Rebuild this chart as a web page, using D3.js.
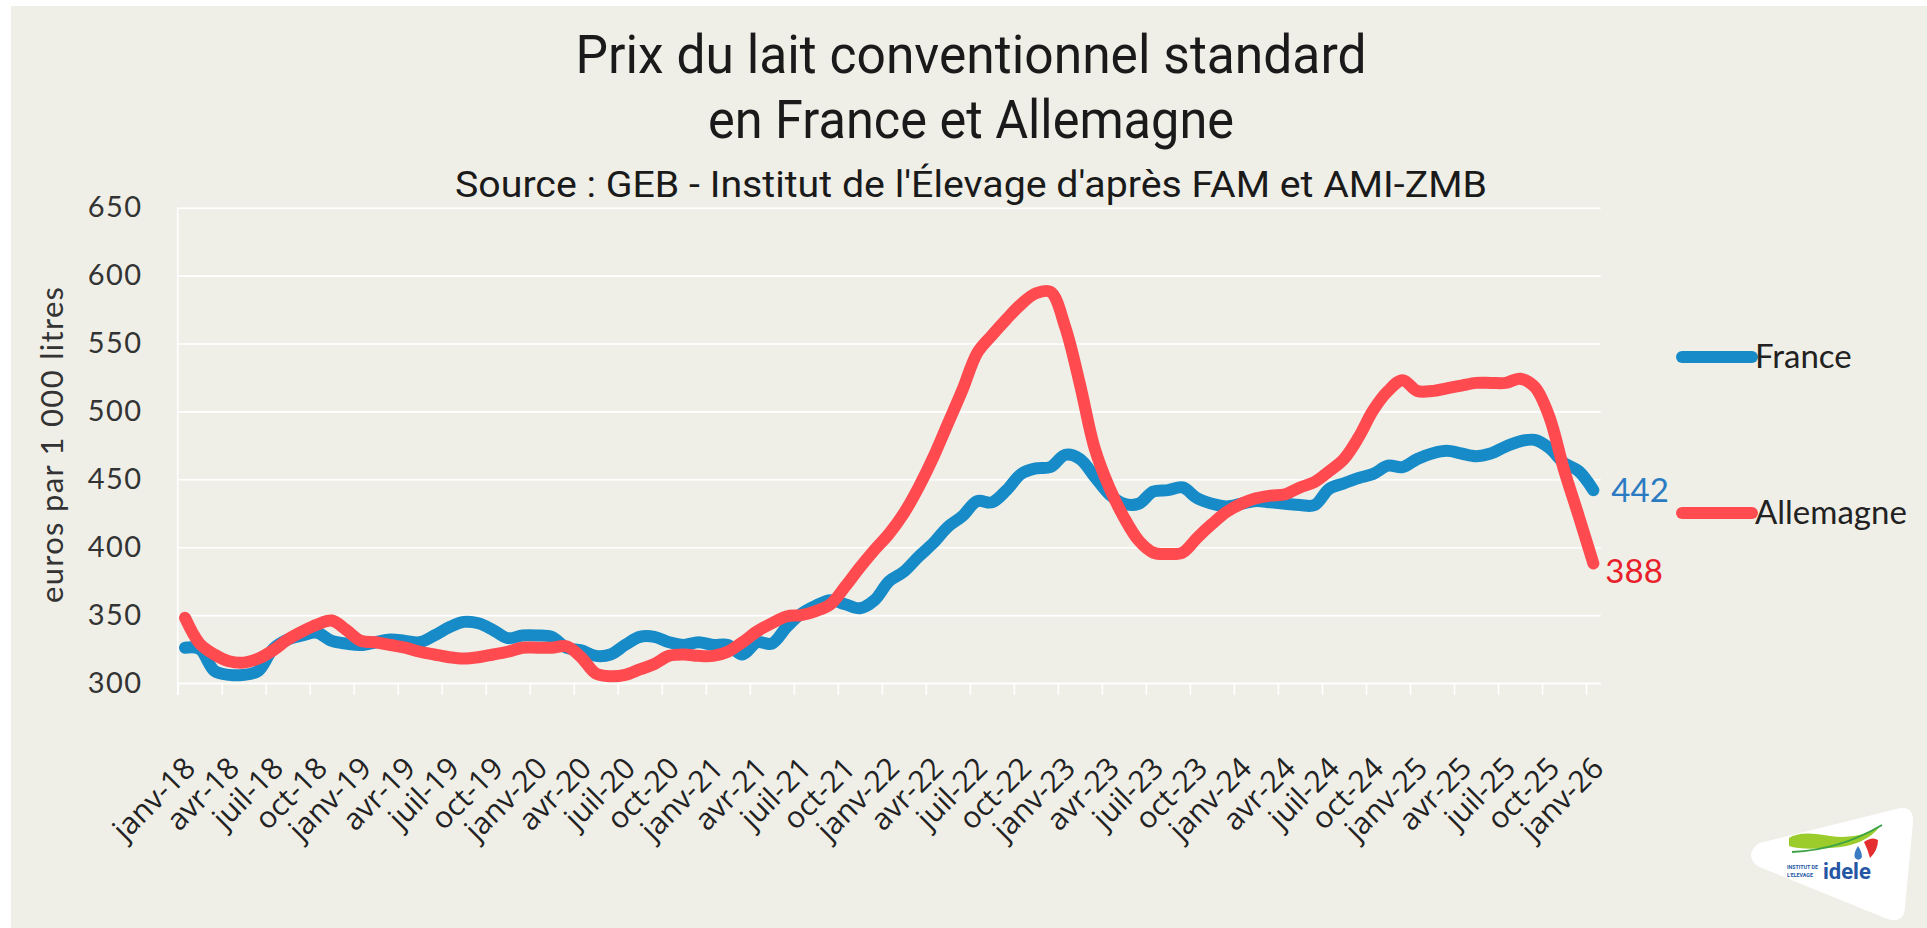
<!DOCTYPE html>
<html>
<head>
<meta charset="utf-8">
<script src="https://cdn.jsdelivr.net/npm/d3@7"></script>
<style>
  body { margin: 0; background: #fff; }
  svg { display: block; }
</style>
</head>
<body>
<div id="vis"></div>
<script>
// mois et années (axe des catégories : janv-18 -> janv-26)
var moisAbr = ['janv', 'févr', 'mars', 'avr', 'mai', 'juin', 'juil', 'août', 'sept', 'oct', 'nov', 'déc'];
var annees = ['18', '19', '20', '21', '22', '23', '24', '25', '26'];

// prix du lait, euros par 1 000 litres
var france = [
  326, 325, 309, 306, 306, 309, 325, 332, 335, 337,
  331, 329, 328, 330, 332, 331, 330, 335, 341, 345,
  344, 339, 333, 335, 335, 334, 326, 324, 320, 321,
  328, 334, 334, 330, 328, 330, 328, 328, 321, 330,
  329, 341, 351, 357, 361, 358, 355, 361, 375, 382,
  393, 403, 415, 423, 434, 433, 442, 454, 458, 459,
  468, 465, 452, 439, 432, 432, 441, 442, 444, 436,
  432, 430, 432, 434, 433, 432, 431, 431, 443, 447,
  451, 454, 460, 459, 465, 469, 471, 469, 467, 469,
  474, 478, 479, 473, 462, 456, 442
];
var allemagne = [
  348, 329, 321, 316, 315, 318, 324, 332, 338, 343,
  346, 339, 331, 330, 328, 326, 323, 321, 319, 318,
  319, 321, 323, 326, 326, 326, 327, 319, 307, 305,
  306, 310, 314, 320, 321, 320, 320, 323, 330, 338,
  344, 349, 350, 353, 358, 371, 385, 398, 410, 425,
  444, 466, 491, 516, 543, 556, 568, 579, 587, 588,
  562, 520, 473, 444, 422, 405, 396, 395, 396, 407,
  417, 426, 432, 436, 438, 439, 444, 448, 456, 465,
  481, 501, 515, 523, 515, 515, 517, 519, 521, 521,
  521, 524, 518, 496, 457, 423, 388
];
var yTicks = [300, 350, 400, 450, 500, 550, 600, 650];

var months = [];
annees.forEach(a => moisAbr.forEach(m => months.push(m + '-' + a)));
months = months.slice(0, france.length);

var series = [
  {name: 'France', values: france, color: '#168bc8', labelColor: '#2a7bc2', legendY: 357, dx: 18, dy: 12},
  {name: 'Allemagne', values: allemagne, color: '#ff4a50', labelColor: '#e8202a', legendY: 513, dx: 12, dy: 20}
];

var width = 1927, height = 928;
var plot = {left: 177.7, right: 1600.7, top: 207.7, bottom: 683};

var svg = d3.select('#vis').append('svg')
  .attr('width', width)
  .attr('height', height);

svg.append('rect')
  .attr('x', 11).attr('y', 6)
  .attr('width', width - 11).attr('height', height - 6)
  .attr('fill', '#efefe8');

var x = d3.scaleBand()
  .domain(months)
  .range([plot.left, plot.right]);
var xb = d3.scaleLinear()
  .domain([0, months.length])
  .range([plot.left, plot.right]);
var y = d3.scaleLinear()
  .domain([300, 650])
  .range([plot.bottom, plot.top]);

// grille + étiquettes Y
var gy = svg.append('g')
  .attr('transform', 'translate(' + plot.left + ',0)')
  .call(d3.axisLeft(y).tickValues(yTicks).tickSize(-(plot.right - plot.left)).tickPadding(35));
gy.select('.domain').remove();
gy.selectAll('line').attr('stroke', '#ffffff').attr('stroke-width', 1.6);
gy.selectAll('text')
  .attr('font-family', 'Lato, sans-serif')
  .attr('font-size', 29)
  .attr('letter-spacing', 1.5)
  .attr('fill', '#333');

// axe vertical blanc
svg.append('line')
  .attr('x1', plot.left).attr('x2', plot.left)
  .attr('y1', plot.top).attr('y2', plot.bottom + 12)
  .attr('stroke', '#fff').attr('stroke-width', 1.6);

// graduations X (limites des trimestres)
var gt = svg.append('g')
  .attr('transform', 'translate(0,' + plot.bottom + ')')
  .call(d3.axisBottom(xb).tickValues(d3.range(0, months.length, 3)).tickSize(12).tickSizeOuter(0));
gt.selectAll('text').remove();
gt.select('.domain').attr('stroke', '#fff').attr('stroke-width', 1.6);
gt.selectAll('line').attr('stroke', '#fff').attr('stroke-width', 1.6);

// étiquettes X
var gx = svg.append('g')
  .attr('transform', 'translate(0,' + plot.bottom + ')')
  .call(d3.axisBottom(x).tickValues(months.filter((d, i) => i % 3 === 0)).tickSize(0));
gx.select('.domain').remove();
gx.selectAll('text')
  .attr('font-family', '"Open Sans", sans-serif')
  .attr('font-size', 30)
  .attr('fill', '#222')
  .attr('text-anchor', 'end')
  .attr('y', 0).attr('dy', 0)
  .attr('transform', 'translate(12,87) rotate(-45)');

// titre Y
svg.append('text')
  .attr('transform', 'translate(63,445) rotate(-90)')
  .attr('text-anchor', 'middle')
  .attr('font-family', 'Lato, sans-serif')
  .attr('font-size', 31)
  .attr('textLength', 316)
  .attr('lengthAdjust', 'spacing')
  .attr('fill', '#333')
  .text('euros par 1 000 litres');

// courbes
var line = d3.line()
  .x((d, i) => x(months[i]) + x.bandwidth() / 2)
  .y(d => y(d))
  .curve(d3.curveCatmullRom.alpha(0.5));

svg.selectAll('path.serie')
  .data(series)
  .enter()
  .append('path')
    .attr('class', 'serie')
    .attr('d', d => line(d.values))
    .attr('fill', 'none')
    .attr('stroke', d => d.color)
    .attr('stroke-width', 12)
    .attr('stroke-linecap', 'round')
    .attr('stroke-linejoin', 'round');

// valeurs finales
series.forEach(s => {
  var n = s.values.length - 1;
  svg.append('text')
    .attr('x', x(months[n]) + x.bandwidth() / 2 + s.dx)
    .attr('y', y(s.values[n]) + s.dy)
    .attr('font-family', 'Lato, sans-serif')
    .attr('font-size', 33)
    .attr('fill', s.labelColor)
    .text(s.values[n]);
});

// légende
var leg = svg.selectAll('g.leg')
  .data(series)
  .enter()
  .append('g')
    .attr('class', 'leg')
    .attr('transform', d => 'translate(1682,' + d.legendY + ')');
leg.append('line')
  .attr('x1', 0).attr('x2', 70)
  .attr('stroke', d => d.color)
  .attr('stroke-width', 12)
  .attr('stroke-linecap', 'round');
leg.append('text')
  .attr('x', 73).attr('y', 11)
  .attr('font-family', 'Lato, sans-serif')
  .attr('font-size', 33)
  .attr('fill', '#222')
  .text(d => d.name);

// titres
var titres = [
  {t: 'Prix du lait conventionnel standard', y: 73, size: 53, len: 791},
  {t: 'en France et Allemagne', y: 138, size: 53, len: 526},
  {t: "Source : GEB - Institut de l'Élevage d'après FAM et AMI-ZMB", y: 197, size: 37, len: 1032}
];
svg.selectAll('text.titre')
  .data(titres)
  .enter()
  .append('text')
    .attr('class', 'titre')
    .attr('x', 971)
    .attr('y', d => d.y)
    .attr('text-anchor', 'middle')
    .attr('font-family', 'Roboto, sans-serif')
    .attr('font-size', d => d.size)
    .attr('textLength', d => d.len)
    .attr('lengthAdjust', 'spacingAndGlyphs')
    .attr('fill', '#1a1a1a')
    .text(d => d.t);

// logo idele
var logo = svg.append('g');
logo.append('path')
  .attr('d', 'M1760,846 Q1748,856 1760,864 L1888,916 Q1902,921 1902,906 L1910,822 Q1911,808 1897,812 Z')
  .attr('fill', '#fff')
  .attr('stroke', '#fff').attr('stroke-width', 6).attr('stroke-linejoin', 'round');
logo.append('path')
  .attr('d', 'M1789,838 Q1800,830 1830,836 Q1860,840 1880,826 Q1866,846 1830,848 Q1800,850 1789,846 Z')
  .attr('fill', '#9ccc2c');
logo.append('path')
  .attr('d', 'M1792,852 Q1840,850 1882,825')
  .attr('fill', 'none').attr('stroke', '#3aa345').attr('stroke-width', 2);
logo.append('path')
  .attr('d', 'M1864,842 Q1872,836 1878,840 Q1878,850 1870,858 Q1868,850 1864,842 Z')
  .attr('fill', '#e52e2e');
logo.append('path')
  .attr('d', 'M1858,846 Q1853,854 1855,858 Q1859,862 1862,857 Q1862,852 1858,846 Z')
  .attr('fill', '#3a7cc4');
logo.append('text')
  .attr('x', 1787).attr('y', 869)
  .attr('font-family', 'Roboto, sans-serif').attr('font-weight', 'bold')
  .attr('font-size', 5.3)
  .attr('fill', '#2456a4')
  .text('INSTITUT DE');
logo.append('text')
  .attr('x', 1787).attr('y', 877)
  .attr('font-family', 'Roboto, sans-serif').attr('font-weight', 'bold')
  .attr('font-size', 5.3)
  .attr('fill', '#2456a4')
  .text("L'ELEVAGE");
logo.append('text')
  .attr('x', 1823).attr('y', 879)
  .attr('font-family', 'Roboto, sans-serif').attr('font-weight', 'bold')
  .attr('font-size', 22).attr('fill', '#2456a4')
  .text('idele');
</script>
</body>
</html>
